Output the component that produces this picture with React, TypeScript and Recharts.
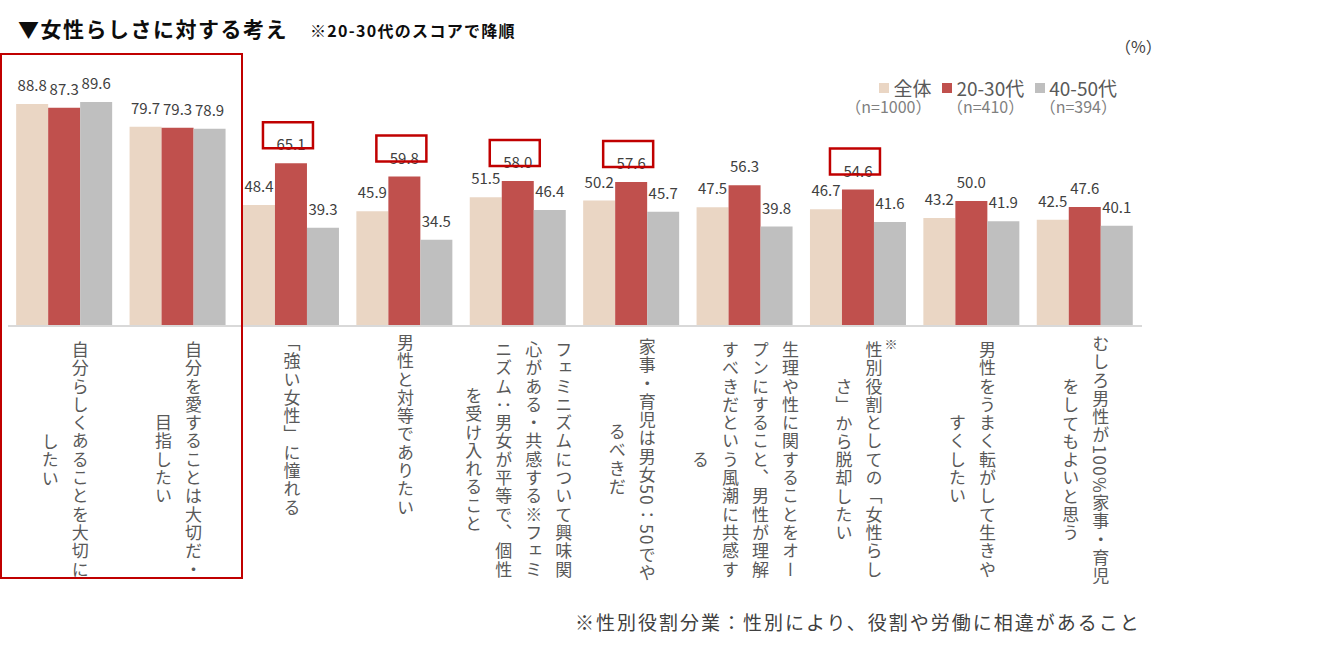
import React from "react";
import { BarChart, Bar, XAxis, YAxis, Legend, LabelList } from "recharts";

const categories = [
  "自分らしくあることを大切にしたい",
  "自分を愛することは大切だ・目指したい",
  "「強い女性」に憧れる",
  "男性と対等でありたい",
  "フェミニズムについて興味関心がある・共感する※フェミニズム：男女が平等で、個性を受け入れること",
  "家事・育児は男女50：50でやるべきだ",
  "生理や性に関することをオープンにすること、男性が理解すべきだという風潮に共感する",
  "性別役割としての「女性らしさ」から脱却したい",
  "男性をうまく転がして生きやすくしたい",
  "むしろ男性が100%家事・育児をしてもよいと思う",
];

const overall = [88.8, 79.7, 48.4, 45.9, 51.5, 50.2, 47.5, 46.7, 43.2, 42.5];
const age2030 = [87.3, 79.3, 65.1, 59.8, 58.0, 57.6, 56.3, 54.6, 50.0, 47.6];
const age4050 = [89.6, 78.9, 39.3, 34.5, 46.4, 45.7, 39.8, 41.6, 41.9, 40.1];

const seriesNames = ["全体", "20-30代", "40-50代"];
const sampleSizes = ["（n=1000）", "（n=410）", "（n=394）"];

// 20-30代の値に赤枠を付ける項目
const boxed2030 = [false, false, true, true, true, true, false, true, false, false];
// ラベルに※を付ける項目
const noteMarked = [false, false, false, false, false, false, false, true, false, false];

const COLORS = ["#EAD6C4", "#C0504D", "#BFBFBF"];
const FONT = '"Noto Sans CJK JP", "Noto Sans", sans-serif';

const data = categories.map((name, i) => ({
  name,
  overall: overall[i],
  age2030: age2030[i],
  age4050: age4050[i],
}));

function CategoryTick(props: any) {
  const { x, y, payload, index } = props;
  const note = noteMarked[index];
  return (
    <g>
      <foreignObject x={x - 70} y={y + 8} width={140} height={275}>
        <div
          style={{
            position: "relative",
            width: 140,
            height: 275,
            display: "flex",
            justifyContent: "center",
            alignItems: "flex-start",
          }}
        >
          <div
            style={{
              writingMode: "vertical-rl",
              height: "max-content",
              maxHeight: 252,
              textAlign: "center",
              lineHeight: "30px",
              fontSize: 17,
              letterSpacing: 1.3,
              color: "#595959",
              fontFamily: FONT,
            }}
          >
            {payload.value}
          </div>
          {note && (
            <span
              style={{
                position: "absolute",
                left: 96,
                top: 0,
                fontSize: 13,
                color: "#595959",
                fontFamily: FONT,
              }}
            >
              ※
            </span>
          )}
        </div>
      </foreignObject>
    </g>
  );
}

const valueLabel = (props: any) => {
  const { x, y, width, value } = props;
  return (
    <text
      x={x + width / 2}
      y={y - 13}
      textAnchor="middle"
      fontSize={15}
      fill="#404040"
      fontFamily={FONT}
    >
      {Number(value).toFixed(1)}
    </text>
  );
};

const boxedLabel = (props: any) => {
  const { x, y, width, index } = props;
  const cx = x + width / 2;
  return (
    <g>
      {valueLabel(props)}
      {boxed2030[index] && (
        <rect
          x={cx - 28}
          y={y - 41}
          width={50}
          height={26}
          fill="none"
          stroke="#C00000"
          strokeWidth={2.5}
        />
      )}
    </g>
  );
};

const renderLegend = (props: any) => {
  const items = [...(props.payload || [])].sort(
    (a: any, b: any) => seriesNames.indexOf(a.value) - seriesNames.indexOf(b.value)
  );
  return (
    <div style={{ display: "flex", justifyContent: "flex-end", gap: 11, fontFamily: FONT }}>
      {items.map((entry: any) => {
        const i = seriesNames.indexOf(entry.value);
        return (
          <div
            key={entry.value}
            style={{ display: "flex", flexDirection: "column", alignItems: "flex-end" }}
          >
            <div
              style={{
                display: "flex",
                alignItems: "center",
                fontSize: 19,
                lineHeight: "20px",
                color: "#595959",
                whiteSpace: "nowrap",
              }}
            >
              <span
                style={{
                  display: "inline-block",
                  width: 10,
                  height: 10,
                  background: entry.color,
                  marginRight: 4,
                }}
              />
              {entry.value}
            </div>
            <div
              style={{
                fontSize: 16,
                lineHeight: "17px",
                color: "#7f7f7f",
                whiteSpace: "nowrap",
              }}
            >
              {sampleSizes[i]}
            </div>
          </div>
        );
      })}
    </div>
  );
};

export default function App() {
  return (
    <div
      style={{
        position: "fixed",
        left: 0,
        top: 0,
        width: 1327,
        height: 652,
        background: "#fff",
        fontFamily: FONT,
        overflow: "hidden",
      }}
    >
      <div
        style={{
          position: "absolute",
          left: 18,
          top: 14,
          fontSize: 21,
          lineHeight: "28px",
          fontWeight: 700,
          letterSpacing: 1.5,
          color: "#0d0d0d",
          whiteSpace: "nowrap",
        }}
      >
        ▼女性らしさに対する考え
      </div>
      <div
        style={{
          position: "absolute",
          left: 310,
          top: 19,
          fontSize: 16,
          lineHeight: "22px",
          fontWeight: 700,
          letterSpacing: 1.3,
          color: "#0d0d0d",
          whiteSpace: "nowrap",
        }}
      >
        ※20-30代のスコアで降順
      </div>
      <div
        style={{
          position: "absolute",
          left: 1115,
          top: 35,
          fontSize: 16,
          lineHeight: "22px",
          color: "#404040",
        }}
      >
        （%）
      </div>

      <div style={{ position: "absolute", left: 0, top: 0 }}>
        <BarChart
          width={1160}
          height={600}
          data={data}
          margin={{ top: 76, right: 18, left: 8, bottom: 24 }}
          barCategoryGap="7.2%"
          barGap={0}
        >
          <XAxis
            dataKey="name"
            interval={0}
            height={250}
            tickLine={false}
            tickSize={0}
            tickMargin={0}
            axisLine={{ stroke: "#D9D9D9", strokeWidth: 2 }}
            tick={<CategoryTick />}
          />
          <YAxis hide domain={[0, 100]} />
          <Legend
            layout="horizontal"
            verticalAlign="middle"
            align="center"
            content={renderLegend}
            wrapperStyle={{ left: 855, top: 78, width: 262 }}
          />
          <Bar dataKey="overall" name={seriesNames[0]} fill={COLORS[0]} isAnimationActive={false}>
            <LabelList dataKey="overall" content={valueLabel} />
          </Bar>
          <Bar dataKey="age2030" name={seriesNames[1]} fill={COLORS[1]} isAnimationActive={false}>
            <LabelList dataKey="age2030" content={boxedLabel} />
          </Bar>
          <Bar dataKey="age4050" name={seriesNames[2]} fill={COLORS[2]} isAnimationActive={false}>
            <LabelList dataKey="age4050" content={valueLabel} />
          </Bar>
        </BarChart>
      </div>

      <div
        style={{
          position: "absolute",
          left: 0,
          top: 53,
          width: 243,
          height: 526,
          border: "2px solid #C00000",
          boxSizing: "border-box",
          pointerEvents: "none",
        }}
      />

      <div
        style={{
          position: "absolute",
          left: 575,
          top: 609,
          fontSize: 19,
          lineHeight: "26px",
          letterSpacing: 2,
          color: "#404040",
          whiteSpace: "nowrap",
        }}
      >
        ※性別役割分業：性別により、役割や労働に相違があること
      </div>
    </div>
  );
}
